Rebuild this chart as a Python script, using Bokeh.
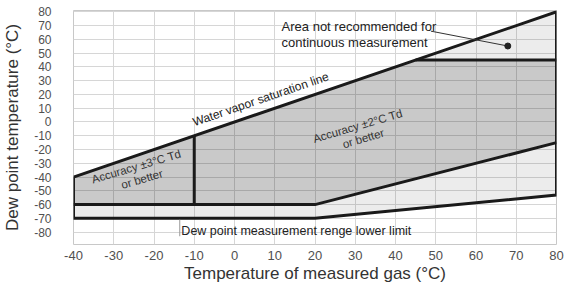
import math
from bokeh.plotting import figure
from bokeh.models import Range1d, FixedTicker
from bokeh.core.properties import value
from bokeh.embed import file_html
from bokeh.resources import INLINE

# ---- data ----
x_ticks = [-40, -30, -20, -10, 0, 10, 20, 30, 40, 50, 60, 70, 80]
y_ticks = [-80, -70, -60, -50, -40, -30, -20, -10, 0, 10, 20, 30, 40, 50, 60, 70, 80]

sat_x = [-40, 80]          # water vapor saturation line (Td = T)
sat_y = [-40, 80]
acc_low_x = [-40, 20, 80]   # lower edge of the accuracy regions
acc_low_y = [-60, -60, -15]
range_low_x = [-40, 20, 80]  # measurement range lower limit
range_low_y = [-70, -70, -53]
split_x = -10               # split between +-3 and +-2 accuracy
not_rec_y = 45              # above this: not recommended for continuous use

FONT = "Liberation Sans"

p = figure(width=564, height=288, output_backend="svg", toolbar_location=None,
           x_range=Range1d(-40, 80), y_range=Range1d(-89, 81),
           min_border_left=72, min_border_right=8, min_border_top=10, min_border_bottom=44)
p.background_fill_color = "white"
p.border_fill_color = "white"
p.outline_line_color = "#c8c8c8"

p.xaxis.ticker = FixedTicker(ticks=x_ticks)
p.yaxis.ticker = FixedTicker(ticks=y_ticks)
p.xaxis.major_label_overrides = {t: str(t) for t in x_ticks}
p.yaxis.major_label_overrides = {t: str(t) for t in y_ticks}
for ax in (p.xaxis[0], p.yaxis[0]):
    ax.axis_line_color = None
    ax.major_tick_line_color = None
    ax.minor_tick_line_color = None
    ax.major_tick_out = 0
    ax.major_tick_in = 0
    ax.minor_tick_out = 0
    ax.minor_tick_in = 0
    ax.major_label_text_font = FONT
    ax.major_label_text_color = "#505050"
    ax.axis_label_text_font = FONT
    ax.axis_label_text_font_size = "17px"
    ax.axis_label_text_font_style = "normal"
    ax.axis_label_text_color = "#333333"
p.xaxis.major_label_text_font_size = "13px"
p.yaxis.major_label_text_font_size = "12px"
p.xaxis.major_label_standoff = 6
p.yaxis.major_label_standoff = 22
p.xaxis.axis_label_standoff = 1
p.yaxis.axis_label_standoff = 9
p.xaxis.axis_label = "Temperature of measured gas (°C)"
p.yaxis.axis_label = "Dew point temperature (°C)"

p.grid.grid_line_color = "#d6d6d6"
p.grid.grid_line_width = 1

# ---- regions (built from the boundary arrays) ----
x0, x1 = sat_x[0], sat_x[-1]
xk = acc_low_x[1]
sat_split = sat_y[0] + (split_x - sat_x[0]) * (sat_y[1] - sat_y[0]) / (sat_x[1] - sat_x[0])
sat_nr_x = sat_x[0] + (not_rec_y - sat_y[0]) * (sat_x[1] - sat_x[0]) / (sat_y[1] - sat_y[0])

mid_alpha = 0.21
light_alpha = 0.075

# not recommended area
p.patch([sat_nr_x, x1, x1], [not_rec_y, sat_y[-1], not_rec_y],
        fill_color="black", fill_alpha=light_alpha, line_color=None)
# +-2 accuracy
p.patch([split_x, sat_nr_x, x1, x1, xk, split_x],
        [sat_split, not_rec_y, not_rec_y, acc_low_y[2], acc_low_y[1], acc_low_y[0]],
        fill_color="black", fill_alpha=mid_alpha, line_color=None)
# +-3 accuracy
p.patch([x0, split_x, split_x, x0],
        [sat_y[0], sat_split, acc_low_y[0], acc_low_y[0]],
        fill_color="black", fill_alpha=mid_alpha, line_color=None)
# band between accuracy region and range lower limit
p.patch(acc_low_x + range_low_x[::-1], acc_low_y + range_low_y[::-1],
        fill_color="black", fill_alpha=light_alpha, line_color=None)

LW = 3
LC = "#1a1a1a"
# outer boundary
p.line([x0] + sat_x + [x1] + range_low_x[::-1] + [x0],
       [sat_y[0]] + sat_y + [range_low_y[-1]] + range_low_y[::-1] + [sat_y[0]],
       line_width=LW, line_color=LC, line_join="miter")
p.line(acc_low_x, acc_low_y, line_width=LW, line_color=LC)
p.line([split_x, split_x], [sat_split, acc_low_y[0]], line_width=LW, line_color=LC)
p.line([sat_nr_x, x1], [not_rec_y, not_rec_y], line_width=LW, line_color=LC)

# ---- annotations ----
p.text(x=[11.7], y=[69.5], text=["Area not recommended for"],
       text_font=value(FONT), text_font_size="13px", text_color="#222222",
       text_align="left", text_baseline="middle")
p.text(x=[11.7], y=[57.5], text=["continuous measurement"],
       text_font=value(FONT), text_font_size="13px", text_color="#222222",
       text_align="left", text_baseline="middle")
p.line([48.8, 67.9], [66, 55.2], line_width=1, line_color="#333333")
p.scatter([67.9], [55.2], size=6, color="#222222")

p.text(x=[6.5], y=[16.5], text=["Water vapor saturation line"], angle=19, angle_units="deg",
       text_font=value(FONT), text_font_size="12px", text_color="#222222",
       text_align="center", text_baseline="middle")
p.text(x=[31.0], y=[-2.5], text=["Accuracy  ±2°C Td"], angle=16.5, angle_units="deg",
       text_font=value(FONT), text_font_size="11.5px", text_color="#333333",
       text_align="center", text_baseline="middle")
p.text(x=[32.0], y=[-12.0], text=["or better"], angle=16.5, angle_units="deg",
       text_font=value(FONT), text_font_size="11.5px", text_color="#333333",
       text_align="center", text_baseline="middle")
p.text(x=[-24.0], y=[-32.0], text=["Accuracy  ±3°C Td"], angle=16.5, angle_units="deg",
       text_font=value(FONT), text_font_size="11.5px", text_color="#333333",
       text_align="center", text_baseline="middle")
p.text(x=[-23.0], y=[-41.5], text=["or better"], angle=16.5, angle_units="deg",
       text_font=value(FONT), text_font_size="11.5px", text_color="#333333",
       text_align="center", text_baseline="middle")
p.text(x=[-13.2], y=[-79.5], text=["Dew point measurement renge lower limit"],
       text_font=value(FONT), text_font_size="12.5px", text_color="#222222",
       text_align="left", text_baseline="middle")
p.line([-13.6, -13.6], [-71, -83], line_width=1, line_color="#999999")

open("out.html", "w").write(file_html(p, INLINE))
